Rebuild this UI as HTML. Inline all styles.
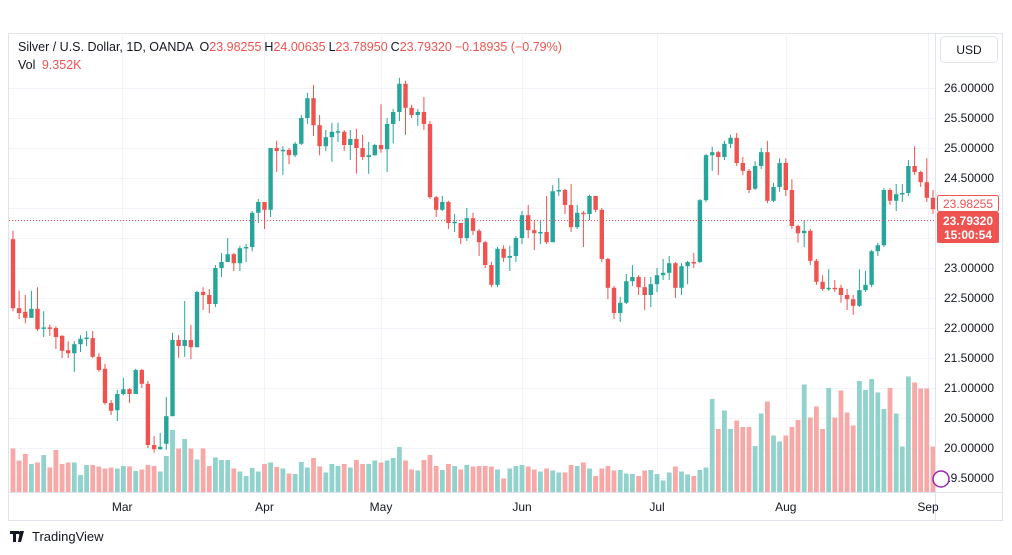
<!DOCTYPE html>
<html><head><meta charset="utf-8">
<style>
html,body{margin:0;padding:0;background:#fff;}
body{width:1012px;height:555px;overflow:hidden;font-family:"Liberation Sans",sans-serif;}
svg{display:block;}
</style></head>
<body>
<svg id="chart" width="1012" height="555" viewBox="0 0 1012 555" xmlns="http://www.w3.org/2000/svg" font-family="Liberation Sans, sans-serif">
  <rect x="8.5" y="33.5" width="994" height="487" fill="#fff" stroke="#e0e3eb"/>
  <g id="grid"></g>
  <g id="vols"></g>
  <g id="candles"></g>
  <line x1="9" x2="935" y1="220.5" y2="220.5" stroke="#ef5350" stroke-width="1" stroke-dasharray="1,2"/>
  <rect x="935.5" y="34" width="66.5" height="486" fill="#fff"/>
  <line x1="935.5" x2="935.5" y1="34" y2="520" stroke="#e0e3eb"/>
  <line x1="9" x2="1002" y1="492.5" y2="492.5" stroke="#e0e3eb"/>
  <g id="yticks" font-size="12" fill="#131722"></g>
  <g id="xticks" font-size="12" fill="#131722"></g>
  <rect x="937.5" y="195.5" width="61" height="16" rx="2" fill="#fff" stroke="#ef5350"/>
  <text x="968" y="208" text-anchor="middle" font-size="12" fill="#ef5350">23.98255</text>
  <rect x="937" y="212" width="62" height="31" rx="2" fill="#ef5350"/>
  <text x="968" y="225" text-anchor="middle" font-size="12" font-weight="bold" fill="#fff">23.79320</text>
  <text x="968" y="239" text-anchor="middle" font-size="12" font-weight="bold" fill="#fff">15:00:54</text>
  <rect x="940.5" y="36.5" width="57" height="26" rx="4" fill="#fff" stroke="#e0e3eb"/>
  <text x="969" y="54" text-anchor="middle" font-size="12" fill="#131722">USD</text>
  <text x="18" y="51" font-size="12.5" fill="#131722">Silver / U.S. Dollar, 1D, OANDA <tspan dx="3">O</tspan><tspan fill="#ef5350">23.98255</tspan><tspan dx="3">H</tspan><tspan fill="#ef5350">24.00635</tspan><tspan dx="3">L</tspan><tspan fill="#ef5350">23.78950</tspan><tspan dx="3">C</tspan><tspan fill="#ef5350">23.79320</tspan><tspan dx="3" fill="#ef5350">−0.18935 (−0.79%)</tspan></text>
  <text x="18" y="69" font-size="12.5" fill="#131722">Vol <tspan dx="3" fill="#ef5350">9.352K</tspan></text>
  <circle cx="941" cy="479" r="8" fill="#fff" stroke="#9c27b0" stroke-width="1.5"/>
  <g>
    <path d="M10 531h9v3h-3v8h-3v-8h-3z M20 531h4l-3 11h-3z" fill="#131722"/>
    <circle cx="20" cy="533" r="1.6" fill="#131722"/>
  </g>
  <text x="32" y="541" font-size="13" fill="#131722">TradingView</text>
</svg>
<script>
const opens=[23.48,22.33,22.27,22.17,22.32,21.99,22.01,22.0,21.87,21.63,21.58,21.73,21.82,21.83,21.52,21.32,20.75,20.63,20.9,20.98,20.9,21.3,21.07,20.05,19.98,20.07,20.53,21.8,21.7,21.8,21.68,22.6,22.55,22.4,23.0,23.1,23.23,23.08,23.33,23.35,23.92,24.1,23.97,25.0,24.95,24.97,24.88,25.07,25.5,25.83,25.38,25.03,25.18,25.27,25.27,25.05,25.15,25.0,24.85,24.88,25.05,24.98,25.4,25.6,26.07,25.67,25.55,25.6,25.4,24.18,23.97,24.1,23.75,23.75,23.5,23.83,23.62,23.43,23.05,22.72,23.32,23.17,23.2,23.5,23.88,23.63,23.58,23.6,23.43,24.28,24.3,24.05,23.68,23.92,23.9,24.2,23.97,23.15,22.67,22.25,22.42,22.78,22.85,22.68,22.55,22.73,22.88,22.92,23.08,22.67,23.03,23.1,23.1,24.13,24.88,24.93,24.85,25.07,25.17,24.75,24.62,24.32,24.7,24.93,24.12,24.35,24.75,24.3,23.7,23.58,23.62,23.12,22.77,22.65,22.67,22.67,22.55,22.48,22.37,22.63,22.72,23.28,23.38,24.3,24.12,24.23,24.25,24.7,24.6,24.43,24.17,23.98];
const closes=[22.33,22.25,22.17,22.32,21.98,22.01,21.99,21.85,21.62,21.58,21.73,21.82,21.84,21.52,21.3,20.75,20.62,20.9,20.98,20.9,21.3,21.07,20.05,19.98,20.02,20.53,21.8,21.7,21.8,21.68,22.6,22.55,22.4,23.0,23.1,23.23,23.08,23.33,23.35,23.92,24.1,23.97,25.0,24.95,24.97,24.88,25.07,25.5,25.83,25.38,25.03,25.18,25.27,25.28,25.05,25.15,25.0,24.85,24.88,25.05,24.98,25.4,25.6,26.07,25.67,25.55,25.6,25.4,24.18,23.97,24.1,23.75,23.77,23.5,23.83,23.62,23.43,23.05,22.72,23.32,23.17,23.2,23.5,23.88,23.63,23.58,23.6,23.43,24.28,24.3,24.05,23.68,23.92,23.9,24.2,23.97,23.15,22.67,22.25,22.42,22.78,22.85,22.68,22.55,22.73,22.88,22.92,23.08,22.67,23.03,23.1,23.08,24.13,24.88,24.93,24.85,25.07,25.17,24.75,24.62,24.3,24.7,24.93,24.12,24.35,24.75,24.3,23.7,23.58,23.62,23.12,22.77,22.65,22.67,22.66,22.55,22.48,22.37,22.63,22.72,23.28,23.38,24.3,24.12,24.23,24.25,24.7,24.6,24.43,24.17,23.98,23.79];
const highs=[23.62,22.62,22.55,22.62,22.68,22.28,22.06,22.03,21.88,21.78,21.78,21.88,21.95,21.95,21.58,21.4,20.8,20.97,21.17,21.0,21.32,21.32,21.12,20.2,20.25,20.85,21.92,21.88,22.45,22.05,22.62,22.68,22.65,23.05,23.25,23.5,23.25,23.37,23.4,23.95,24.15,24.1,25.0,25.12,25.03,25.0,25.1,25.55,25.92,26.05,25.55,25.3,25.42,25.42,25.3,25.3,25.32,25.22,25.1,25.07,25.73,25.5,25.65,26.17,26.12,25.72,25.65,25.85,25.45,24.2,24.2,24.12,23.9,23.75,24.0,23.92,23.65,23.45,23.1,23.35,23.38,23.37,23.53,23.95,24.05,23.78,23.8,24.2,24.38,24.5,24.32,24.4,24.05,23.95,24.22,24.2,24.0,23.17,22.7,22.52,22.9,23.05,22.88,22.85,22.85,23.0,23.15,23.2,23.1,23.08,23.12,23.25,24.15,24.9,25.02,24.95,25.12,25.22,25.25,24.85,24.65,24.78,25.0,25.12,24.42,24.83,24.83,24.48,23.72,23.8,23.65,23.15,22.88,22.98,22.8,22.72,22.65,22.55,22.98,22.95,23.3,23.42,24.33,24.33,24.4,24.4,24.8,25.03,24.62,24.83,24.3,24.01];
const lows=[22.28,22.15,22.08,22.17,21.95,21.85,21.87,21.65,21.5,21.5,21.27,21.6,21.7,21.5,21.27,20.72,20.55,20.45,20.88,20.75,20.9,21.0,20.0,19.92,19.97,19.97,20.53,21.5,21.52,21.48,21.68,22.3,22.25,22.35,22.85,23.1,22.95,22.95,23.1,23.28,23.75,23.65,23.85,24.6,24.55,24.73,24.85,25.05,25.4,25.2,24.88,24.95,24.77,25.1,24.95,24.8,24.57,24.8,24.57,24.87,24.92,24.6,25.08,25.45,25.22,25.5,25.37,25.3,24.15,23.85,23.95,23.65,23.6,23.4,23.45,23.55,23.2,23.0,22.68,22.68,23.1,22.95,23.1,23.4,23.5,23.3,23.4,23.4,23.43,24.2,23.9,23.6,23.65,23.35,23.8,23.93,23.1,22.48,22.15,22.1,22.4,22.7,22.55,22.3,22.35,22.6,22.8,22.8,22.5,22.55,22.73,23.0,23.08,24.1,24.62,24.55,24.8,25.0,24.7,24.55,24.25,24.3,24.65,24.08,24.1,24.27,24.2,23.65,23.42,23.35,23.05,22.72,22.62,22.62,22.6,22.42,22.3,22.22,22.35,22.6,22.68,23.2,23.35,24.05,23.95,24.1,24.2,24.55,24.35,24.1,23.9,23.79];
const volumes=[8.7,6.3,7.6,5.6,5.9,7.4,4.9,8.4,5.6,5.9,5.9,3.4,5.4,5.4,5.1,4.7,4.9,4.7,5.2,5.1,4.2,4.5,5.4,5.2,4.1,7.2,12.4,8.7,10.6,8.7,6.5,8.7,5.2,6.9,6.4,6.4,4.7,4.1,3.2,4.8,4.1,5.6,5.9,5.0,4.7,3.7,3.6,6.0,4.9,6.8,5.1,3.9,5.6,5.2,5.6,4.9,6.4,5.6,5.6,6.3,5.9,6.3,6.8,9.0,6.3,4.5,4.3,6.4,7.4,5.2,4.4,5.6,5.2,4.5,5.4,5.1,5.2,5.2,5.1,4.5,2.7,4.7,5.2,5.4,5.1,4.5,4.1,4.7,4.3,3.9,3.9,5.4,5.2,5.9,4.7,3.2,4.7,5.2,4.3,4.4,3.7,3.6,3.2,4.3,4.4,3.6,2.3,3.9,5.1,4.1,3.5,3.2,4.4,4.9,18.6,12.6,16.3,12.6,14.3,13.0,13.0,9.2,15.7,18.1,11.3,10.1,11.3,13.0,14.4,21.5,14.9,17.1,12.6,20.8,14.9,20.3,15.9,13.3,22.2,20.4,22.6,19.9,16.6,20.8,15.7,9.1,23.1,21.9,20.7,20.7,9.1,9.352];
const priceTicks=[26,25.5,25,24.5,23,22.5,22,21.5,21,20.5,20,19.5];
const gridPrices=[26,25.5,25,24.5,24,23.5,23,22.5,22,21.5,21,20.5,20,19.5];
const monthLabels=["Mar","Apr","May","Jun","Jul","Aug","Sep"];
const monthIndex=[17.8,41,60,83,105,126,149.2];

const NS="http://www.w3.org/2000/svg";
function yP(p){return 88+(26-p)*60;}
function xI(i){return 13+i*6.133;}
function yV(v){return 492-v*5;}
function mk(tag,attrs,parent){const e=document.createElementNS(NS,tag);for(const k in attrs)e.setAttribute(k,attrs[k]);parent.appendChild(e);return e;}
const grid=document.getElementById('grid'),vg=document.getElementById('vols'),cg=document.getElementById('candles'),yt=document.getElementById('yticks'),xt=document.getElementById('xticks');
gridPrices.forEach(p=>{const l=mk('line',{x1:9,x2:935,y1:Math.round(yP(p))+0.5,y2:Math.round(yP(p))+0.5,stroke:'#f0f3fa'},grid);

});
monthIndex.forEach(i=>{const l=mk('line',{x1:Math.round(xI(i))+0.5,x2:Math.round(xI(i))+0.5,y1:34,y2:492,stroke:'#f0f3fa'},grid);

});
volumes.forEach((v,i)=>{const up=closes[i]>=opens[i];const x=xI(i);
const r=mk('rect',{x:(x-2.4).toFixed(1),y:yV(v).toFixed(1),width:4.8,height:(492-yV(v)).toFixed(1),fill:up?'#92d2cc':'#f7a9a7'},vg);

});
opens.forEach((o,i)=>{const c=closes[i];const up=c>=o;const col=up?'#26a69a':'#ef5350';const x=xI(i);
const w=mk('line',{x1:x.toFixed(1),x2:x.toFixed(1),y1:yP(highs[i]).toFixed(1),y2:yP(lows[i]).toFixed(1),stroke:col,'stroke-width':1},cg);


const t=Math.min(yP(o),yP(c));const h=Math.max(1.5,Math.abs(yP(o)-yP(c)));
const b=mk('rect',{x:(x-2.2).toFixed(1),y:t.toFixed(1),width:4.4,height:h.toFixed(1),fill:col},cg);

});
priceTicks.forEach(p=>{const t=mk('text',{x:944,y:(yP(p)+4).toFixed(1)},yt);t.textContent=p.toFixed(5);

});
monthLabels.forEach((m,k)=>{const t=mk('text',{x:xI(monthIndex[k]).toFixed(1),y:511,'text-anchor':'middle'},xt);t.textContent=m;

});
</script>
</body></html>
